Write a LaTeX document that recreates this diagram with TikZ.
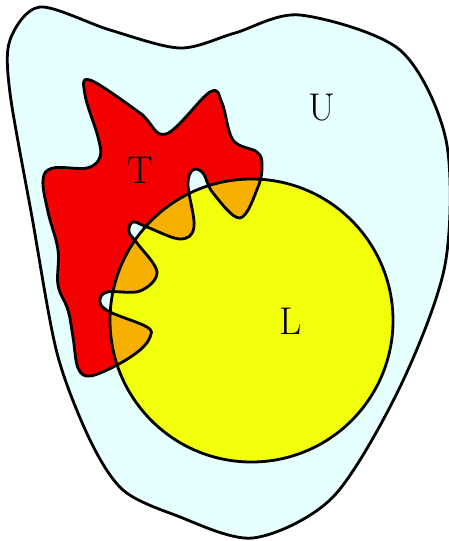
\documentclass[tikz,border=0pt]{standalone}
\usepackage{tikz}
\usetikzlibrary{positioning}
\definecolor{Ucyan}{HTML}{E6FFFF}
\definecolor{Tred}{HTML}{F50000}
\definecolor{Lyellow}{HTML}{F2FF0A}
\definecolor{TLorange}{HTML}{F5B000}
\tikzset{
  setline/.style={black, line width=1.6pt},
  setlabel/.style={font=\fontsize{22}{26}\selectfont}
}
% outlines of the three sets (pixel units, y down)
\newcommand{\Ushape}{plot[smooth cycle] coordinates {
  (10,40) (40,7) (110,30) (180,48) (235,33) (300,15) (400,50) (446,140)
  (445,265) (400,387) (333,497) (253,538) (175,515) (123,490) (90,440)
  (57,353) (32,217) (10,93)}}
\newcommand{\Tshape}{plot[smooth cycle, tension=0.6] coordinates {
  (90,80) (140,113) (166,134) (210,92) (222,103) (233,140) (257,152)
  (262,165) (258,187) (240,218) (213,193) (203,173) (193,170) (188,185)
  (194,227) (180,239) (147,227) (133,222) (129,232) (137,243) (157,272)
  (140,291) (107,292) (100,302) (110,312) (147,327) (150,337) (140,350)
  (117,365) (90,376) (78,368) (73,337) (68,310) (58,285) (58,250)
  (48,212) (43,180) (53,168) (87,168) (100,157) (98,137) (85,95)}}
\newcommand{\Lshape}{(251.5,320.5) circle (141.5)}

\begin{document}
\begin{tikzpicture}[x=0.02cm, y=-0.02cm]
  \useasboundingbox (0,0) rectangle (449,541);

  % universe U
  \fill[Ucyan] \Ushape;
  \draw[setline] \Ushape;

  % fills of T, L and their overlap
  \fill[Tred] \Tshape;
  \fill[Lyellow] \Lshape;
  \begin{scope}
    \clip \Tshape;
    \fill[TLorange] \Lshape;
  \end{scope}

  % outlines
  \draw[setline] \Tshape;
  \draw[setline] \Lshape;

  % set names
  \node[setlabel] (labelU) at (322,108) {U};
  \node[setlabel] (labelT) at (140,170) {T};
  \node[setlabel] (labelL) at (291,321) {L};
\end{tikzpicture}
\end{document}
